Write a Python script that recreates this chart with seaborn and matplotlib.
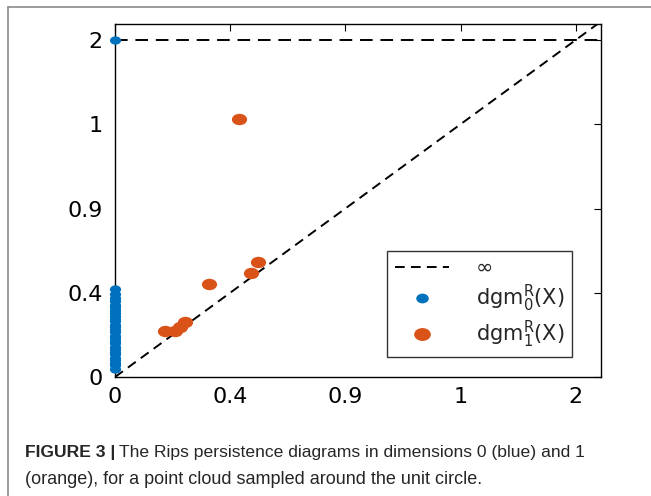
import matplotlib
matplotlib.use("Agg")
import numpy as np
import pandas as pd
import matplotlib.pyplot as plt
import seaborn as sns
from matplotlib.path import Path
from matplotlib.transforms import Affine2D
from matplotlib.markers import MarkerStyle
from matplotlib.lines import Line2D

# axis is drawn in tick-position units, labels are the printed ones
tick_pos = [0, 1, 2, 3, 4]
tick_labels = ["0", "0.4", "0.9", "1", "2"]

# dimension 0 points (birth, death) in tick units
dim0_birth = [0] * 29
dim0_death = [0.10, 0.14, 0.17, 0.20, 0.23, 0.27, 0.30, 0.33, 0.36, 0.40,
              0.43, 0.46, 0.49, 0.53, 0.56, 0.59, 0.62, 0.66, 0.69, 0.72,
              0.76, 0.79, 0.83, 0.86, 0.90, 0.94, 0.98, 1.04, 4.0]

# dimension 1 points
dim1_birth = [0.43, 0.52, 0.56, 0.61, 0.82, 1.18, 1.24, 1.08]
dim1_death = [0.55, 0.55, 0.59, 0.65, 1.10, 1.23, 1.37, 3.06]

blue = "#0072BD"
orange = "#D95319"

sns.set_style("white")
plt.rcParams["font.family"] = ["DejaVu Sans"]
plt.rcParams["mathtext.fontset"] = "dejavusans"

fig = plt.figure(figsize=(6.51, 4.96), dpi=100)
ax = fig.add_axes([0.1767, 0.2399, 0.7465, 0.7117])

# image is stretched sideways, so markers are flattened ellipses
ell = MarkerStyle(Path.unit_circle().transformed(Affine2D().scale(1.0, 0.75)))

df0 = pd.DataFrame({"birth": dim0_birth, "death": dim0_death})
df1 = pd.DataFrame({"birth": dim1_birth, "death": dim1_death})

xmax, ymax = 4.22, 4.19
ax.plot([0, xmax], [0, xmax], color="black", lw=1.4, dashes=(5, 3.2), zorder=1)
ax.plot([0, xmax], [4, 4], color="black", lw=1.4, dashes=(6.5, 4), zorder=1)

sns.scatterplot(data=df0, x="birth", y="death", ax=ax, color=blue, marker=ell,
                s=65, linewidth=0, zorder=3, clip_on=False)
sns.scatterplot(data=df1, x="birth", y="death", ax=ax, color=orange, marker=ell,
                s=120, linewidth=0, zorder=3, clip_on=False)

ax.set_xlim(0, xmax)
ax.set_ylim(0, ymax)
ax.set_xticks(tick_pos)
ax.set_xticklabels(tick_labels)
ax.set_yticks(tick_pos)
ax.set_yticklabels(tick_labels)
ax.set_xlabel("")
ax.set_ylabel("")
ax.tick_params(direction="in", length=5, width=0.8, top=True, right=True,
               labelsize=16, colors="black", pad=7)
ax.tick_params(axis="y", pad=9)
for sp in ax.spines.values():
    sp.set_visible(True)
    sp.set_color("black")
    sp.set_linewidth(1.0)

handles = [
    Line2D([], [], color="black", lw=1.4, dashes=(5, 3.2)),
    Line2D([], [], color=blue, marker=ell, markersize=8, linestyle="none"),
    Line2D([], [], color=orange, marker=ell, markersize=11, linestyle="none"),
]
labels = ["\u221e", r"dgm$^{\mathrm{R}}_{0}$(X)", r"dgm$^{\mathrm{R}}_{1}$(X)"]
leg = ax.legend(handles, labels, loc="lower right", bbox_to_anchor=(0.94, 0.057),
                fontsize=15, frameon=True, fancybox=False, edgecolor="black",
                handlelength=2.6, handletextpad=1.3, borderpad=0.35,
                labelspacing=0.22, borderaxespad=0)
leg.get_frame().set_linewidth(1.0)

# page frame lines
fig.add_artist(Line2D([8 / 651, 1], [1 - 7 / 496, 1 - 7 / 496], color="#8a8a8a", lw=1.2))
fig.add_artist(Line2D([8 / 651, 8 / 651], [0, 1 - 7 / 496], color="#8a8a8a", lw=1.2))

# caption
cap_font = ["Liberation Sans", "DejaVu Sans"]
y1 = 1 - 452 / 496
y2 = 1 - 479 / 496
t1 = fig.text(25 / 651, y1, "FIGURE 3 |", fontsize=12.6, fontweight="bold",
              family=cap_font, va="center", ha="left")
fig.canvas.draw()
bb = t1.get_window_extent()
fig.text((bb.x1 + 4) / 651, y1, "The Rips persistence diagrams in dimensions 0 (blue) and 1",
         fontsize=12.6, family=cap_font, va="center", ha="left")
fig.text(25 / 651, y2, "(orange), for a point cloud sampled around the unit circle.",
         fontsize=13, family=cap_font, va="center", ha="left")

fig.savefig("out.png", dpi=100)
